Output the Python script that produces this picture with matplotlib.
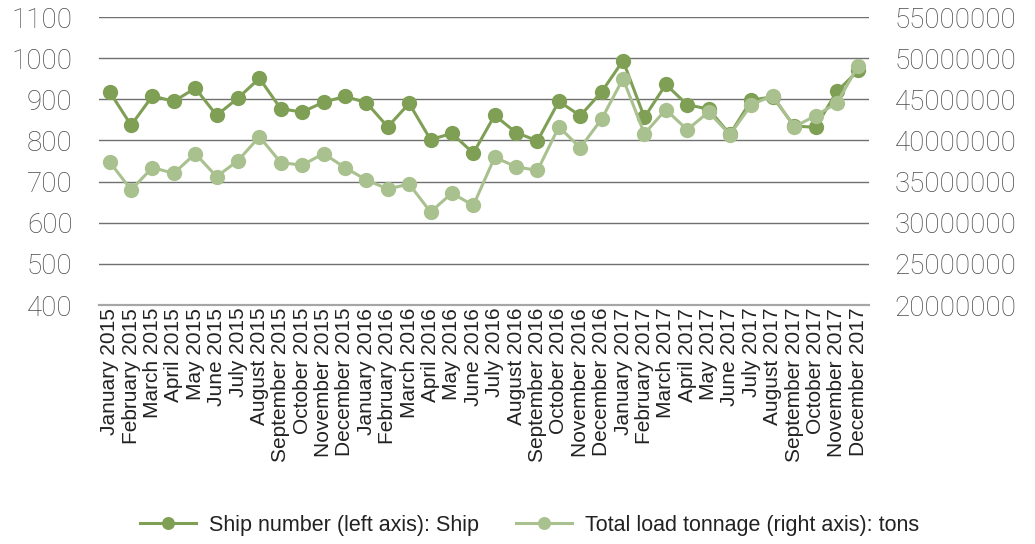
import matplotlib
matplotlib.use("Agg")
import matplotlib.pyplot as plt
from matplotlib.ticker import FixedLocator

months = ["January", "February", "March", "April", "May", "June", "July",
          "August", "September", "October", "November", "December"]
years = [2015, 2016, 2017]
categories = [f"{m} {y}" for y in years for m in months]

ship_number = [918, 837, 908, 895, 927, 861, 903, 951, 877, 869, 893, 907,
               892, 833, 890, 802, 817, 769, 861, 819, 799, 895, 860, 918,
               994, 856, 936, 887, 876, 815, 898, 906, 835, 832, 919, 970]

tonnage = [37380000, 34000000, 36700000, 36000000, 38400000, 35600000,
           37550000, 40450000, 37300000, 37000000, 38400000, 36700000,
           35200000, 34100000, 34700000, 31300000, 33600000, 32100000,
           37950000, 36800000, 36350000, 41650000, 39100000, 42600000,
           47500000, 40800000, 43750000, 41300000, 43450000, 40700000,
           44350000, 45450000, 41650000, 43000000, 44550000, 49100000]

left_ticks = [400, 500, 600, 700, 800, 900, 1000, 1100]
right_ticks = [20000000, 25000000, 30000000, 35000000, 40000000,
               45000000, 50000000, 55000000]

dark = "#7f9f55"
light = "#a9c18f"

fig = plt.figure(figsize=(10.35, 5.44), dpi=100)
ax = fig.add_axes([99/1035, 1-305/544, (869-99)/1035, (305-17)/544])
ax2 = ax.twinx()

x = list(range(len(categories)))
ax.set_xlim(-0.5, len(categories) - 0.5)
ax.set_ylim(400, 1100)
ax2.set_ylim(20000000, 55000000)

for yv in left_ticks[1:]:
    ax.axhline(yv, color="#707070", lw=1.0, zorder=0)

l1, = ax.plot(x, ship_number, color=dark, lw=2.2, marker="o", ms=11,
              markeredgewidth=0, zorder=3, label="Ship number (left axis): Ship")
l2, = ax2.plot(x, tonnage, color=light, lw=2.2, marker="o", ms=11,
               markeredgewidth=0, zorder=4, label="Total load tonnage (right axis): tons")

for a in (ax, ax2):
    for s in ("top", "left", "right"):
        a.spines[s].set_visible(False)
    a.spines["bottom"].set_color("#a6a6a6")
    a.spines["bottom"].set_linewidth(1.5)

tick_font = dict(family=["Roboto", "DejaVu Sans"], weight="light", size=20)
ax.yaxis.set_major_locator(FixedLocator(left_ticks))
ax.set_yticklabels([str(v) for v in left_ticks], color="#4a4a4a", **tick_font)
ax2.yaxis.set_major_locator(FixedLocator(right_ticks))
ax2.set_yticklabels([str(v) for v in right_ticks], color="#4a4a4a", **tick_font)
ax.tick_params(axis="y", length=0, pad=19)
ax2.tick_params(axis="y", length=0, pad=18.5)

ax.set_xticks(x)
ax.set_xticklabels(categories, rotation=90, family="Liberation Sans",
                   size=15, color="#222222")
ax.tick_params(axis="x", length=0, pad=2)

leg = fig.legend(handles=[l1, l2], loc="center", ncol=2,
                 bbox_to_anchor=(529.5/1035, 1-525/544), frameon=False,
                 prop=dict(family="Liberation Sans", size=15.5),
                 handlelength=2.6, handletextpad=0.6, columnspacing=1.7,
                 markerscale=0.85)
for t in leg.get_texts():
    t.set_color("#222222")

fig.savefig("out.png", dpi=100)
